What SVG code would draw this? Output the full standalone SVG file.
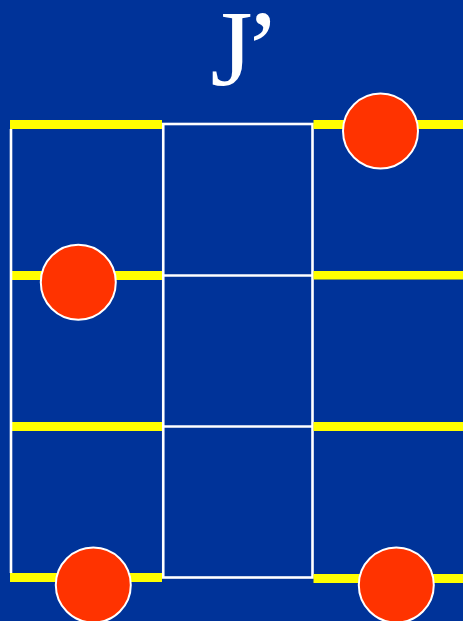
<svg xmlns="http://www.w3.org/2000/svg" width="463" height="621" viewBox="0 0 463 621">
<style>
.bar{fill:#FFFF00}
.wl{stroke:#FFFFFF;stroke-width:2.6;fill:none}
.dot{fill:#FF3300;stroke:#FFFFFF;stroke-width:2}
.title{font-family:"Liberation Serif","Times New Roman",serif;font-size:108px;fill:#FFFFFF;letter-spacing:-8px}
</style>
<rect width="463" height="621" fill="#003399"/>
<text class="title" x="210.5" y="85">J’</text>
<g id="grid">
<rect class="wl" x="163.25" y="124" width="149.25" height="453.5"/>
<line class="wl" x1="163" y1="275.5" x2="312.5" y2="275.5"/>
<line class="wl" x1="163" y1="426.5" x2="312.5" y2="426.5"/>
</g>
<g id="bars">
<rect class="bar" x="10" y="120" width="152" height="9"/>
<rect class="bar" x="10" y="271" width="152" height="9"/>
<rect class="bar" x="10" y="422" width="152" height="9"/>
<rect class="bar" x="10" y="573" width="152" height="9"/>
<rect class="bar" x="313.5" y="120" width="150" height="9"/>
<rect class="bar" x="313.5" y="271" width="150" height="8.5"/>
<rect class="bar" x="313.5" y="422" width="150" height="9"/>
<rect class="bar" x="313.5" y="574" width="150" height="9"/>
</g>
<line class="wl" x1="11" y1="129" x2="11" y2="573"/>
<g id="dots">
<circle class="dot" cx="380.5" cy="131" r="37.5"/>
<circle class="dot" cx="78.3" cy="282.3" r="37.5"/>
<circle class="dot" cx="93.3" cy="585" r="37.5"/>
<circle class="dot" cx="396.3" cy="585" r="37.5"/>
</g>
</svg>
